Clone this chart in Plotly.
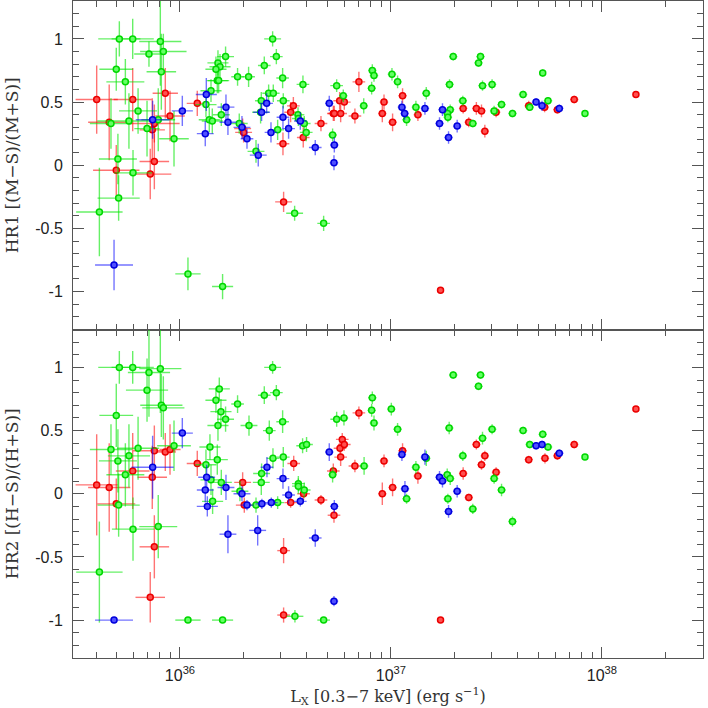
import numpy as np
import plotly.graph_objects as go
from plotly.subplots import make_subplots

# ---------------- DATA (L in units of 1e36 erg/s; xerr in dex) ----------------
# Top panel: HR1
hr1_green_L = [0.516, 0.597, 0.713, 0.807, 0.834, 0.499, 0.551, 0.816, 0.633, 0.573, 0.471, 0.698, 0.789, 0.937,
               0.508, 0.599, 0.512, 0.415, 1.091, 1.592, 2.749, 2.863, 1.645, 1.514, 1.548, 1.481, 1.503, 1.525,
               1.875, 2.115, 2.510, 3.066, 3.827, 1.403, 1.328, 1.570, 1.377, 1.423, 2.632, 2.769, 2.429, 3.088,
               2.411, 2.904, 3.627, 3.640, 3.882, 3.967, 1.910, 2.293, 3.495, 4.797, 5.290, 5.530, 5.943,
               8.16, 8.31, 8.10, 7.43, 10.11, 10.75, 11.86, 13.13, 14.70, 19.73, 18.95, 19.09, 18.54, 18.61,
               21.91, 24.43, 26.00, 26.57, 27.16, 30.15, 30.83, 33.43, 37.67, 42.29, 45.47, 52.4, 55.5, 83.1]
hr1_green_v = [1.00, 1.00, 0.88, 0.98, 0.90, 0.76, 0.66, 0.74, 0.43, 0.35, 0.33, 0.29, 0.36, 0.21,
               0.05, -0.06, -0.26, -0.37, -0.86, -0.96, 1.00, 0.86, 0.86, 0.81, 0.78, 0.76, 0.67, 0.67,
               0.70, 0.70, 0.79, 0.69, 0.64, 0.59, 0.48, 0.40, 0.36, 0.35, 0.57, 0.57, 0.51, 0.51,
               0.42, 0.28, 0.40, 0.37, 0.33, 0.26, 0.33, 0.11, -0.38, -0.46, 0.24, 0.63, 0.55,
               0.75, 0.71, 0.61, 0.47, 0.72, 0.66, 0.36, 0.46, 0.57, 0.86, 0.64, 0.44, 0.41, 0.38,
               0.51, 0.33, 0.81, 0.86, 0.63, 0.64, 0.43, 0.48, 0.41, 0.56, 0.46, 0.73, 0.51, 0.41]
hr1_green_xe = [0.10, 0.10, 0.07, 0.10, 0.11, 0.08, 0.09, 0.07, 0.09, 0.15, 0.10, 0.06, 0.08, 0.07,
                0.09, 0.09, 0.10, 0.11, 0.06, 0.05, 0.04, 0.03, 0.04, 0.05, 0.05, 0.05, 0.05, 0.05,
                0.03, 0.03, 0.03, 0.03, 0.03, 0.05, 0.05, 0.04, 0.05, 0.05, 0.03, 0.03, 0.03, 0.03,
                0.04, 0.03, 0.03, 0.03, 0.03, 0.03, 0.04, 0.04, 0.04, 0.03, 0.02, 0.03, 0.02,
                0.02, 0.02, 0.02, 0.02, 0.02, 0.02, 0.02, 0.02, 0.02, 0.02, 0.02, 0.02, 0.02, 0.02,
                0.02, 0.02, 0.02, 0.02, 0.02, 0.02, 0.02, 0.02, 0.02, 0.02, 0.02, 0.01, 0.02, 0.01]
hr1_green_ye = [0.14, 0.16, 0.10, 0.35, 0.14, 0.17, 0.18, 0.30, 0.18, 0.22, 0.20, 0.22, 0.25, 0.22,
                0.20, 0.18, 0.18, 0.35, 0.13, 0.10, 0.06, 0.06, 0.08, 0.10, 0.10, 0.10, 0.10, 0.10,
                0.07, 0.08, 0.07, 0.08, 0.07, 0.09, 0.10, 0.09, 0.10, 0.10, 0.07, 0.07, 0.07, 0.06,
                0.09, 0.08, 0.06, 0.06, 0.06, 0.07, 0.08, 0.09, 0.06, 0.06, 0.05, 0.05, 0.05,
                0.05, 0.05, 0.05, 0.06, 0.05, 0.05, 0.05, 0.05, 0.05, 0.03, 0.04, 0.04, 0.04, 0.04,
                0.04, 0.03, 0.03, 0.03, 0.04, 0.04, 0.04, 0.03, 0.03, 0.03, 0.03, 0.03, 0.03, 0.02]

hr1_red_L = [0.403, 0.462, 0.597, 0.852, 0.897, 0.756, 0.739, 0.756, 0.499, 0.723, 1.208, 1.982, 2.003, 3.099,
             3.077, 3.447, 3.346, 3.840, 4.659, 5.331, 5.390, 5.714, 5.776, 6.010, 6.748, 7.047, 9.27, 9.10,
             10.18, 11.35, 13.42, 17.18, 21.99, 25.4, 23.38, 26.86, 27.86, 31.5, 44.98, 53.5, 61.5, 73.9, 144.9]
hr1_red_v = [0.52, 0.34, 0.52, 0.57, 0.39, 0.33, 0.28, 0.03, -0.04, -0.07, 0.49, 0.29, 0.26, -0.29,
             0.17, 0.47, 0.42, 0.22, 0.33, 0.41, 0.41, 0.51, 0.41, 0.50, 0.39, 0.66, 0.50, 0.41,
             0.34, 0.55, 0.40, -0.99, 0.45, 0.45, 0.34, 0.43, 0.27, 0.42, 0.47, 0.46, 0.44, 0.52, 0.56]
hr1_red_xe = [0.10, 0.10, 0.09, 0.06, 0.07, 0.12, 0.06, 0.07, 0.11, 0.10, 0.05, 0.04, 0.04, 0.04,
              0.03, 0.03, 0.03, 0.03, 0.03, 0.03, 0.03, 0.03, 0.03, 0.03, 0.03, 0.03, 0.02, 0.02,
              0.02, 0.02, 0.02, 0.01, 0.02, 0.02, 0.02, 0.02, 0.02, 0.02, 0.02, 0.02, 0.02, 0.02, 0.01]
hr1_red_ye = [0.27, 0.30, 0.25, 0.20, 0.20, 0.15, 0.25, 0.22, 0.20, 0.20, 0.10, 0.08, 0.08, 0.08,
              0.09, 0.07, 0.08, 0.08, 0.06, 0.06, 0.06, 0.07, 0.07, 0.06, 0.06, 0.08, 0.06, 0.07,
              0.07, 0.06, 0.05, 0.02, 0.04, 0.05, 0.04, 0.05, 0.05, 0.04, 0.04, 0.04, 0.03, 0.03, 0.02]

hr1_blue_L = [0.487, 1.026, 0.742, 1.333, 1.318, 1.652, 1.688, 1.967, 2.078, 2.350, 2.575, 2.437, 3.077, 3.272,
              2.700, 3.719, 4.377, 5.390, 5.370, 5.101, 11.27, 11.61, 14.49, 16.99, 17.55, 18.75, 20.60,
              48.74, 52.0, 62.8]
hr1_blue_v = [-0.79, 0.43, 0.36, 0.56, 0.25, 0.46, 0.34, 0.30, 0.21, 0.08, 0.49, 0.42, 0.38, 0.29,
              0.26, 0.35, 0.14, 0.16, 0.02, 0.49, 0.46, 0.41, 0.45, 0.33, 0.44, 0.22, 0.31,
              0.50, 0.47, 0.45]
hr1_blue_xe = [0.09, 0.05, 0.08, 0.05, 0.04, 0.04, 0.04, 0.04, 0.03, 0.04, 0.03, 0.04, 0.03, 0.03,
               0.03, 0.03, 0.03, 0.02, 0.02, 0.02, 0.02, 0.02, 0.02, 0.02, 0.02, 0.02, 0.02,
               0.02, 0.02, 0.02]
hr1_blue_ye = [0.20, 0.12, 0.15, 0.13, 0.10, 0.10, 0.10, 0.09, 0.08, 0.09, 0.08, 0.07, 0.09, 0.08,
               0.08, 0.07, 0.06, 0.06, 0.06, 0.06, 0.05, 0.05, 0.05, 0.05, 0.05, 0.05, 0.05,
               0.03, 0.04, 0.03]

# Bottom panel: HR2
hr2_green_L = [0.516, 0.597, 0.713, 0.807, 0.698, 0.816, 0.834, 0.499, 0.633, 0.573, 0.471, 0.508, 0.551, 0.512,
               0.599, 0.789, 0.937, 0.415, 1.091, 1.592, 2.749, 2.863, 1.536, 1.481, 1.564, 1.645, 1.875, 1.514,
               2.124, 2.510, 2.651, 3.066, 1.387, 1.328, 1.503, 1.403, 1.570, 1.428, 1.924, 2.293, 2.429, 2.437,
               2.759, 2.904, 3.088, 3.640, 3.640, 3.813, 3.981, 3.882, 3.507, 4.797, 5.290, 5.530, 5.988,
               8.16, 8.10, 8.31, 7.46, 10.04, 10.75, 11.86, 13.13, 14.70, 19.73, 26.57, 26.00, 18.88, 18.48,
               19.09, 18.61, 21.91, 24.43, 27.16, 30.15, 30.83, 33.43, 37.67, 42.29, 45.47, 52.4, 55.5, 83.1]
hr2_green_v = [1.00, 1.00, 0.96, 0.99, 0.82, 0.70, 0.68, 0.62, 0.36, 0.30, 0.35, 0.26, 0.15, -0.09,
               -0.28, -0.26, 0.38, -0.62, -1.00, -1.00, 1.00, 0.80, 0.83, 0.74, 0.65, 0.59, 0.71, 0.54,
               0.54, 0.78, 0.50, 0.57, 0.37, 0.23, 0.27, 0.11, 0.09, -0.06, 0.02, -0.09, 0.09, 0.16,
               0.28, -0.07, 0.29, 0.08, 0.06, 0.38, 0.39, 0.03, -0.97, -1.00, 0.15, 0.59, 0.60,
               0.76, 0.66, 0.56, 0.22, 0.67, 0.51, -0.04, 0.21, 0.28, 0.94, 0.94, 0.85, 0.52, 0.15,
               0.12, -0.04, 0.30, -0.12, 0.44, 0.51, 0.12, 0.03, -0.22, 0.50, 0.39, 0.47, 0.37, 0.29]
hr2_green_xe = [0.10, 0.10, 0.10, 0.10, 0.10, 0.10, 0.10, 0.08, 0.10, 0.10, 0.10, 0.09, 0.09, 0.10,
                0.10, 0.09, 0.08, 0.11, 0.06, 0.05, 0.04, 0.03, 0.05, 0.05, 0.05, 0.04, 0.03, 0.05,
                0.04, 0.03, 0.03, 0.03, 0.05, 0.05, 0.05, 0.05, 0.05, 0.05, 0.04, 0.04, 0.04, 0.04,
                0.03, 0.03, 0.03, 0.03, 0.03, 0.03, 0.03, 0.03, 0.04, 0.03, 0.02, 0.03, 0.02,
                0.02, 0.02, 0.02, 0.02, 0.02, 0.02, 0.02, 0.02, 0.02, 0.02, 0.02, 0.02, 0.02, 0.02,
                0.02, 0.02, 0.02, 0.02, 0.02, 0.02, 0.02, 0.02, 0.02, 0.02, 0.02, 0.02, 0.02, 0.01]
hr2_green_ye = [0.13, 0.13, 0.35, 0.35, 0.25, 0.25, 0.25, 0.25, 0.25, 0.25, 0.20, 0.25, 0.25, 0.25,
                0.25, 0.25, 0.20, 0.40, 0.02, 0.02, 0.05, 0.06, 0.09, 0.10, 0.10, 0.10, 0.07, 0.12,
                0.08, 0.07, 0.08, 0.09, 0.10, 0.12, 0.12, 0.12, 0.10, 0.10, 0.08, 0.06, 0.10, 0.08,
                0.08, 0.05, 0.08, 0.06, 0.06, 0.06, 0.06, 0.06, 0.05, 0.02, 0.06, 0.06, 0.06,
                0.05, 0.05, 0.06, 0.07, 0.05, 0.05, 0.04, 0.05, 0.06, 0.03, 0.03, 0.03, 0.05, 0.05,
                0.05, 0.04, 0.04, 0.04, 0.05, 0.04, 0.04, 0.05, 0.04, 0.03, 0.03, 0.03, 0.03, 0.02]

hr2_red_L = [0.403, 0.462, 0.597, 0.499, 0.756, 0.739, 0.852, 0.897, 0.756, 0.723, 1.208, 1.982, 2.018, 3.099,
             3.099, 3.346, 3.460, 3.854, 4.659, 5.331, 5.370, 5.735, 5.877, 6.010, 5.776, 6.748, 7.047, 9.27,
             9.10, 10.18, 11.35, 13.42, 17.18, 21.99, 23.38, 25.4, 26.86, 27.86, 31.5, 44.98, 53.7, 61.5, 73.9, 144.9]
hr2_red_v = [0.07, 0.05, 0.18, -0.08, 0.34, 0.13, 0.33, 0.35, -0.42, -0.82, 0.24, 0.09, -0.09, -0.45,
             -0.96, -0.07, 0.24, 0.00, -0.05, 0.18, -0.17, 0.36, 0.43, 0.39, 0.29, 0.22, 0.64, 0.26,
             0.00, 0.05, 0.34, 0.14, -1.00, 0.16, -0.03, 0.39, 0.23, 0.30, 0.17, 0.27, 0.28, 0.30, 0.39, 0.67]
hr2_red_xe = [0.10, 0.10, 0.08, 0.09, 0.10, 0.07, 0.05, 0.05, 0.07, 0.07, 0.05, 0.04, 0.04, 0.03,
              0.03, 0.03, 0.03, 0.03, 0.03, 0.03, 0.03, 0.03, 0.03, 0.03, 0.03, 0.03, 0.03, 0.02,
              0.02, 0.02, 0.02, 0.02, 0.01, 0.02, 0.02, 0.02, 0.02, 0.02, 0.02, 0.02, 0.02, 0.02, 0.02, 0.01]
hr2_red_ye = [0.40, 0.35, 0.30, 0.20, 0.20, 0.25, 0.15, 0.20, 0.25, 0.20, 0.10, 0.08, 0.06, 0.10,
              0.06, 0.04, 0.06, 0.05, 0.04, 0.06, 0.06, 0.06, 0.05, 0.05, 0.07, 0.05, 0.05, 0.05,
              0.09, 0.07, 0.06, 0.06, 0.02, 0.05, 0.03, 0.04, 0.04, 0.04, 0.04, 0.03, 0.04, 0.03, 0.03, 0.02]

hr2_blue_L = [0.487, 1.026, 0.742, 1.338, 1.318, 1.348, 1.652, 1.688, 1.967, 2.078, 2.335, 2.445, 2.584, 2.710,
              3.077, 3.272, 3.719, 4.377, 5.101, 5.390, 5.370, 11.27, 11.65, 14.49, 16.99, 17.55, 18.75, 20.60,
              48.74, 52.0, 62.8]
hr2_blue_v = [-1.00, 0.48, 0.21, 0.13, 0.03, -0.10, 0.05, -0.32, 0.00, -0.09, -0.29, -0.08, 0.21, -0.07,
              0.12, -0.01, -0.06, -0.35, 0.33, -0.10, -0.85, 0.31, 0.04, 0.29, 0.13, 0.10, -0.14, 0.02,
              0.38, 0.39, 0.32]
hr2_blue_xe = [0.09, 0.05, 0.10, 0.04, 0.04, 0.05, 0.04, 0.04, 0.04, 0.03, 0.04, 0.03, 0.03, 0.03,
               0.03, 0.03, 0.03, 0.03, 0.02, 0.02, 0.02, 0.02, 0.02, 0.02, 0.02, 0.02, 0.02, 0.02,
               0.02, 0.02, 0.02]
hr2_blue_ye = [0.02, 0.12, 0.25, 0.10, 0.10, 0.08, 0.10, 0.15, 0.06, 0.04, 0.12, 0.04, 0.08, 0.04,
               0.08, 0.07, 0.04, 0.07, 0.07, 0.05, 0.04, 0.05, 0.06, 0.06, 0.05, 0.05, 0.05, 0.05,
               0.03, 0.03, 0.03]

x_tick_vals = [1e36, 1e37, 1e38]
x_tick_text = ["10<sup>36</sup>", "10<sup>37</sup>", "10<sup>38</sup>"]
y_tick_vals = [-1, -0.5, 0, 0.5, 1]
y_tick_text = ["-1", "-0.5", "0", "0.5", "1"]

COLORS = {
    "red": dict(fill="rgb(255,80,80)", edge="rgb(235,0,0)", err="rgba(255,0,0,0.55)"),
    "green": dict(fill="rgb(100,255,100)", edge="rgb(0,215,0)", err="rgba(0,230,0,0.6)"),
    "blue": dict(fill="rgb(80,80,255)", edge="rgb(0,0,220)", err="rgba(0,0,255,0.55)"),
}

fig = make_subplots(rows=2, cols=1, shared_xaxes=True, vertical_spacing=0)


def add_series(L, v, xe, ye, cname, row):
    Lx = np.array(L, dtype=float) * 1e36
    dex = np.array(xe, dtype=float)
    c = COLORS[cname]
    fig.add_trace(go.Scatter(
        x=Lx, y=v, mode="markers",
        marker=dict(size=6, color=c["fill"], line=dict(color=c["edge"], width=1.5)),
        error_x=dict(type="data", array=Lx * (10 ** dex - 1), arrayminus=Lx * (1 - 10 ** (-dex)),
                     color=c["err"], thickness=1.4, width=0),
        error_y=dict(type="data", array=ye, color=c["err"], thickness=1.4, width=0),
        showlegend=False, hoverinfo="skip",
    ), row=row, col=1)


add_series(hr1_red_L, hr1_red_v, hr1_red_xe, hr1_red_ye, "red", 1)
add_series(hr1_green_L, hr1_green_v, hr1_green_xe, hr1_green_ye, "green", 1)
add_series(hr1_blue_L, hr1_blue_v, hr1_blue_xe, hr1_blue_ye, "blue", 1)
add_series(hr2_red_L, hr2_red_v, hr2_red_xe, hr2_red_ye, "red", 2)
add_series(hr2_green_L, hr2_green_v, hr2_green_xe, hr2_green_ye, "green", 2)
add_series(hr2_blue_L, hr2_blue_v, hr2_blue_xe, hr2_blue_ye, "blue", 2)

minor_x = [float(k) * 10.0 ** n for n in range(35, 39) for k in range(2, 10)]
AX = "#555555"
tick_font = dict(family="Liberation Sans, Arial, sans-serif", size=16, color="#222")
title_font = dict(family="DejaVu Serif, serif", size=17, color="#333")

common_x = dict(type="log", range=[35.493, 38.479], showgrid=False, zeroline=False, automargin=False,
                showline=True, linecolor=AX, linewidth=1, mirror="allticks",
                ticks="inside", ticklen=11, tickwidth=1, tickcolor=AX,
                tickmode="array", tickvals=x_tick_vals, ticktext=x_tick_text,
                minor=dict(tickmode="array", tickvals=minor_x, ticks="inside", ticklen=6,
                           tickcolor=AX, showgrid=False),
                tickfont=tick_font)
fig.update_xaxes(**common_x)
fig.update_xaxes(showticklabels=False, row=1, col=1)
fig.update_xaxes(row=2, col=1, ticklabelstandoff=3,
                 title=dict(text="L<sub>X</sub> [0.3\u22127 keV] (erg s<sup>\u22121</sup>)",
                            font=dict(family="DejaVu Serif, serif", size=16, color="#333"), standoff=8))

common_y = dict(range=[-1.3, 1.3], showgrid=False, zeroline=False, automargin=False,
                showline=True, linecolor=AX, linewidth=1, mirror="allticks",
                ticks="inside", ticklen=11, tickwidth=1, tickcolor=AX,
                tickmode="array", tickvals=y_tick_vals, ticktext=y_tick_text,
                minor=dict(dtick=0.1, tick0=0, ticks="inside", ticklen=6, tickcolor=AX, showgrid=False),
                tickfont=tick_font, ticklabelstandoff=6)
fig.update_yaxes(**common_y)
fig.update_yaxes(row=1, col=1, title=dict(text="HR1 [(M\u2212S)/(M+S)]", font=title_font, standoff=12))
fig.update_yaxes(row=2, col=1, title=dict(text="HR2 [(H\u2212S)/(H+S)]", font=title_font, standoff=12))

fig.update_layout(width=708, height=708, margin=dict(l=73, r=5, t=1, b=50, autoexpand=False),
                  paper_bgcolor="white", plot_bgcolor="white")

fig.write_html("out.html", config={"displayModeBar": False, "staticPlot": True},
               post_script="document.body.style.margin='0';document.body.style.padding='0';"
                           "document.body.style.overflow='hidden';")
